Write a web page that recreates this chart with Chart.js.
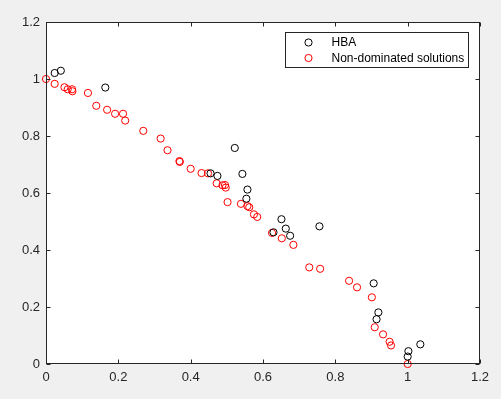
<!DOCTYPE html>
<html>
<head>
<meta charset="utf-8">
<script src="https://cdn.jsdelivr.net/npm/chart.js@4"></script>
<style>
  body { margin: 0; background: #f0f0f0; }
  #canvas { display: block; }
</style>
</head>
<body>
<canvas id="canvas" width="501" height="399"></canvas>
<script>
// tick labels
const xTicks = [0, 0.2, 0.4, 0.6, 0.8, 1, 1.2]
const yTicks = [0, 0.2, 0.4, 0.6, 0.8, 1, 1.2]

// HBA
const hbaX = [0.024, 0.041, 0.164, 0.522, 0.455, 0.474, 0.543, 0.557, 0.554, 0.651,
              0.663, 0.629, 0.675, 0.756, 0.906, 0.919, 0.914, 1.002, 1.0, 1.035]
const hbaY = [1.021, 1.029, 0.970, 0.758, 0.669, 0.660, 0.667, 0.612, 0.580, 0.508,
              0.475, 0.462, 0.450, 0.483, 0.283, 0.181, 0.157, 0.045, 0.026, 0.069]

// Non-dominated solutions
const ndsX = [0, 0.024, 0.051, 0.060, 0.072, 0.073, 0.116, 0.139, 0.169, 0.191,
              0.213, 0.219, 0.269, 0.317, 0.336, 0.369, 0.370, 0.400, 0.430, 0.448,
              0.472, 0.488, 0.495, 0.497, 0.502, 0.539, 0.557, 0.562, 0.575, 0.584,
              0.625, 0.652, 0.684, 0.728, 0.758, 0.838, 0.860, 0.901, 0.909, 0.932,
              0.950, 0.954, 1.0]
const ndsY = [1.0, 0.983, 0.971, 0.964, 0.964, 0.957, 0.951, 0.906, 0.892, 0.878,
              0.878, 0.854, 0.818, 0.791, 0.750, 0.712, 0.709, 0.685, 0.670, 0.669,
              0.634, 0.627, 0.628, 0.619, 0.568, 0.562, 0.554, 0.550, 0.525, 0.516,
              0.460, 0.441, 0.418, 0.339, 0.334, 0.292, 0.269, 0.234, 0.129, 0.104,
              0.078, 0.065, 0.0]

const toPoints = (xs, ys) => xs.map((x, i) => ({ x: x, y: ys[i] }))

const FONT = '"Liberation Sans", Arial, sans-serif'
const AXIS = '#262626'

// white plot area behind the points
const plotBg = {
  id: 'plotBg',
  beforeDatasetsDraw(chart) {
    const ctx = chart.ctx
    const a = chart.chartArea
    ctx.save()
    ctx.fillStyle = '#ffffff'
    ctx.fillRect(a.left, a.top, a.right - a.left, a.bottom - a.top)
    ctx.restore()
  }
}

// matlab-ish box, inward ticks and legend
const matlabAxes = {
  id: 'matlabAxes',
  afterDraw(chart) {
    const ctx = chart.ctx
    const a = chart.chartArea
    const xs = chart.scales.x
    const ys = chart.scales.y
    const L = Math.round(a.left) + 0.5, R = Math.round(a.right) - 0.5
    const T = Math.round(a.top) + 0.5, B = Math.round(a.bottom) - 0.5
    const len = 4
    ctx.save()
    ctx.strokeStyle = AXIS
    ctx.lineWidth = 1
    ctx.strokeRect(L, T, R - L, B - T)
    ctx.beginPath()
    xs.ticks.forEach(t => {
      const px = Math.round(xs.getPixelForValue(t.value)) + 0.5
      ctx.moveTo(px, B); ctx.lineTo(px, B - len)
      ctx.moveTo(px, T); ctx.lineTo(px, T + len)
    })
    ys.ticks.forEach(t => {
      const py = Math.round(ys.getPixelForValue(t.value)) + 0.5
      ctx.moveTo(L, py); ctx.lineTo(L + len, py)
      ctx.moveTo(R, py); ctx.lineTo(R - len, py)
    })
    ctx.stroke()

    // legend
    const bw = 183, bh = 35
    const bx = Math.round(a.right) - 11.5 - bw
    const by = Math.round(a.top) + 10.5
    ctx.fillStyle = '#ffffff'
    ctx.fillRect(bx, by, bw, bh)
    ctx.strokeRect(bx, by, bw, bh)
    ctx.font = '12px ' + FONT
    ctx.textBaseline = 'middle'
    chart.data.datasets.forEach((ds, i) => {
      const cy = by + 10 + i * 15.5
      ctx.beginPath()
      ctx.strokeStyle = ds.borderColor
      ctx.arc(bx + 23, cy, 3.6, 0, Math.PI * 2)
      ctx.stroke()
      ctx.fillStyle = '#000000'
      ctx.fillText(ds.label, bx + 46, cy + 0.5)
    })
    ctx.restore()
  }
}

const data = {
  datasets: [
    {
      label: 'HBA',
      data: toPoints(hbaX, hbaY),
      borderColor: '#000000',
      backgroundColor: 'rgba(0,0,0,0)',
      borderWidth: 1,
      pointRadius: 3.6,
      pointHoverRadius: 3.6,
      clip: false,
    },
    {
      label: 'Non-dominated solutions',
      data: toPoints(ndsX, ndsY),
      borderColor: '#ff0000',
      backgroundColor: 'rgba(0,0,0,0)',
      borderWidth: 1,
      pointRadius: 3.6,
      pointHoverRadius: 3.6,
      clip: false,
    },
  ],
}

const config = {
  type: 'scatter',
  data: data,
  options: {
    responsive: false,
    animation: false,
    events: [],
    layout: { padding: { left: 0, right: 21, top: 22, bottom: 0 } },
    plugins: { legend: { display: false }, tooltip: { enabled: false } },
    scales: {
      x: {
        type: 'linear',
        min: 0, max: 1.2,
        grid: { display: false, drawTicks: false },
        border: { display: false },
        afterBuildTicks: s => { s.ticks = xTicks.map(v => ({ value: v })) },
        afterFit: s => { s.height = 35 },
        ticks: {
          color: AXIS, padding: 6, maxRotation: 0,
          font: { family: FONT, size: 13 },
          callback: v => String(v),
        },
      },
      y: {
        type: 'linear',
        min: 0, max: 1.2,
        grid: { display: false, drawTicks: false },
        border: { display: false },
        afterBuildTicks: s => { s.ticks = yTicks.map(v => ({ value: v })) },
        afterFit: s => { s.width = 46 },
        ticks: {
          color: AXIS, padding: 6,
          font: { family: FONT, size: 13 },
          callback: v => String(v),
        },
      },
    },
  },
  plugins: [plotBg, matlabAxes],
}

const canvas = document.getElementById('canvas')
const chart = new Chart(canvas, config)
</script>
</body>
</html>
